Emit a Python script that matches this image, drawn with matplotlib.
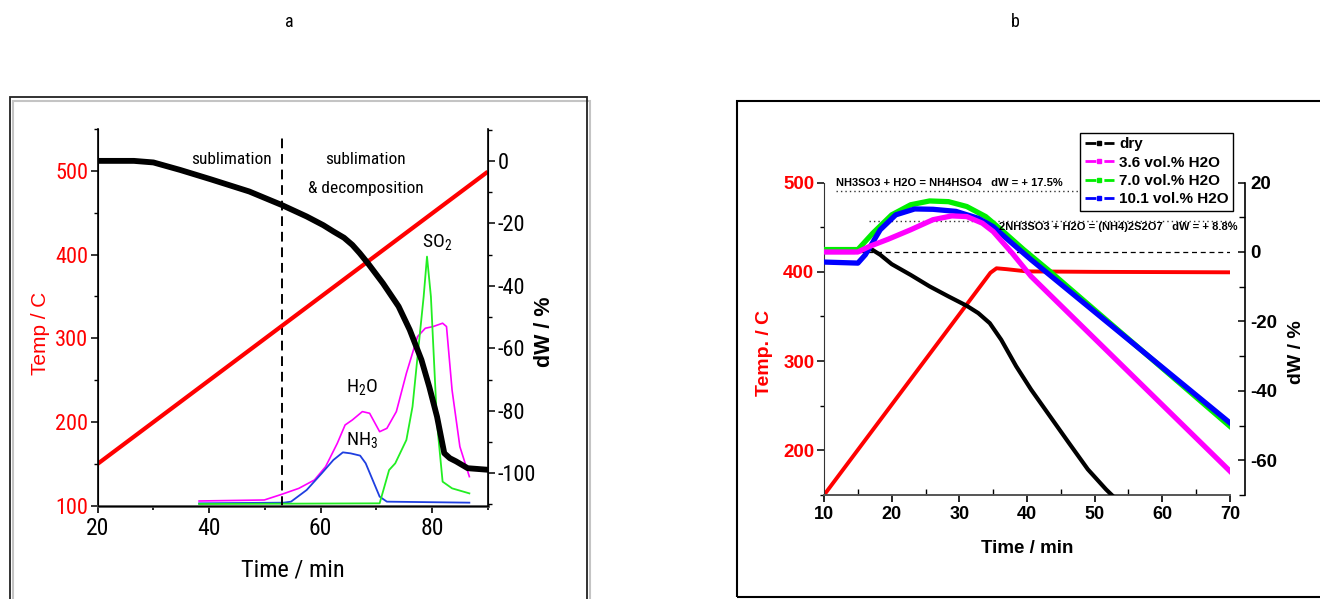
import numpy as np
import matplotlib
matplotlib.use('Agg')
import matplotlib.pyplot as plt
from matplotlib import font_manager
from matplotlib.lines import Line2D
from matplotlib.patches import Rectangle
from matplotlib.ticker import MultipleLocator, FixedLocator

# ---- panel a : TG + MS ----
time_temp_a = [20, 90]
temp_a = [150, 499]

time_dw_a = [20, 26.5, 30, 34.8, 40.3, 47.2, 53, 57.5, 60.5, 62.3, 64.2, 65.7, 67,
             68.5, 71.2, 74, 76, 78.1, 79.5, 80.9, 82.2, 83.2, 84.3, 86.4, 90]
dw_a = [0, 0, -0.5, -2.9, -5.9, -9.8, -14.1, -17.8, -20.6, -22.6, -24.6, -26.9, -29.5,
        -32.8, -39.2, -46.6, -54.1, -63.7, -72.3, -81.9, -93.6, -95.2, -96.2, -98.4, -98.9]

time_h2o = [38.2, 49.9, 53, 56.1, 58.9, 60.9, 63, 64.4, 65.7, 67.5, 68.8, 70.6,
            71.9, 73.6, 75.4, 77.4, 78.8, 80.2, 81.9, 82.6, 83.6, 85, 86.7]
ms_h2o = [105.6, 106.8, 113.5, 120.7, 130.7, 146.6, 174.5, 196.4, 202.4, 212.4,
          210.4, 188.4, 192.4, 212.4, 258.2, 302, 312, 314, 318, 314, 238, 170.5, 134.7]

time_nh3 = [38.2, 53.4, 54.7, 57.5, 60.2, 62.3, 64, 65.4, 67.1, 68.1, 70.6, 71.9, 86.7]
ms_nh3 = [102.8, 103.6, 104.8, 118.7, 138.6, 154.6, 163.7, 162.5, 159.8, 150.6,
          110.8, 104.8, 103.6]

time_so2 = [38.2, 70.6, 72.3, 73.4, 75.4, 76.5, 77.4, 78.5, 79.1, 79.8, 80.9,
            81.9, 83.6, 86.7]
ms_so2 = [102, 102.8, 142.6, 150.6, 178.5, 218.3, 278, 349.8, 397.6, 349.8,
          198.4, 128.7, 120.7, 114.7]

t_boundary = 53

# ---- panel b : TG under humidity ----
time_temp_b = [10, 34.6, 35.5, 37, 40, 50, 70]
temp_b = [150, 399, 404, 403, 400.5, 400, 399.5]

time_dry = [10, 14.5, 16.1, 17, 18.3, 20, 22.8, 25.6, 28.4, 31.1, 32.8, 34.5,
            36.2, 38.4, 40.6, 43.4, 46.2, 49, 51.7, 52.7]
dw_dry = [0, 0, 0.6, 0.8, -0.8, -3.5, -6.6, -9.9, -12.8, -15.5, -17.6, -20.5,
          -25.3, -32.9, -39.6, -47.3, -55, -62.6, -68.4, -70.3]

time_36 = [10, 15, 16.7, 19.5, 22.8, 26.1, 28.9, 31.1, 33.4, 35, 37.8, 40.6, 70]
dw_36 = [0, 0, 1.6, 3.7, 6.4, 9.3, 10.4, 10.2, 8.3, 5.9, -0.3, -7, -63.1]

time_70 = [10, 15, 17.2, 20, 22.8, 25.6, 28.4, 31.1, 33.9, 36.2, 39.5, 43.4, 70]
dw_70 = [0.7, 0.7, 5.4, 10.7, 13.6, 14.7, 14.5, 13.1, 10.2, 6.4, 0.7, -5.6, -50.2]

time_101 = [10, 15, 16.1, 18.3, 20.6, 23.4, 26.1, 29.5, 32.8, 35, 37.8, 40.6, 70]
dw_101 = [-2.9, -3.2, -0.8, 6.4, 10.7, 12.4, 12.3, 11.7, 9.7, 7.3, 2.5, -2.2, -49.2]

labels_b = ['dry', '3.6 vol.% H2O', '7.0 vol.% H2O', '10.1 vol.% H2O']
colors_b = ['black', '#ff00ff', '#00ee00', '#0000ff']

dw_hso4 = 17.5
dw_s2o7 = 8.8
text_hso4 = 'NH3SO3 + H2O = NH4HSO4   dW = + 17.5%'
text_s2o7 = '2NH3SO3 + H2O = (NH4)2S2O7   dW = + 8.8%'


def pick_narrow():
    have = {f.name for f in font_manager.fontManager.ttflist}
    for name in ['Liberation Sans Narrow', 'Arial Narrow', 'DejaVu Sans Condensed',
                 'Roboto Condensed']:
        if name in have:
            return name
    return 'Liberation Sans'


def panel_a(fig, narrow):
    ax = fig.add_axes([0.0740, 0.1558, 0.2955, 0.6288])
    ax2 = ax.twinx()

    ax.plot(time_temp_a, temp_a, color='#ff0000', lw=3.0, solid_capstyle='butt', zorder=3)
    ax.plot(time_h2o, ms_h2o, color='#ff00ff', lw=1.2)
    ax.plot(time_nh3, ms_nh3, color='#1f3fe0', lw=1.3)
    ax.plot(time_so2, ms_so2, color='#22ee22', lw=1.3)
    ax2.plot(time_dw_a, dw_a, color='black', lw=4.2)
    ax.axvline(t_boundary, color='black', lw=1.4, ls=(0, (5, 3)), ymax=0.985)

    ax.set_xlim(20, 90)
    ax.set_ylim(100, 550)
    ax2.set_ylim(-110.4, 10.2)

    ax.xaxis.set_major_locator(MultipleLocator(20))
    ax.xaxis.set_minor_locator(MultipleLocator(10))
    ax.yaxis.set_major_locator(MultipleLocator(100))
    ax.yaxis.set_minor_locator(MultipleLocator(50))
    ax2.yaxis.set_major_locator(MultipleLocator(20))
    ax2.yaxis.set_minor_locator(MultipleLocator(10))
    ax2.set_yticks([0, -20, -40, -60, -80, -100])

    for a in (ax, ax2):
        a.spines['top'].set_visible(False)
    ax.spines['bottom'].set_color('#555555')
    ax.spines['bottom'].set_linewidth(2)
    ax.spines['left'].set_linewidth(1.2)
    ax2.spines['right'].set_linewidth(1.2)

    ax.tick_params(axis='x', which='major', length=5, width=1.2, labelsize=17, pad=3)
    ax.tick_params(axis='x', which='minor', length=3, width=1.2)
    ax.tick_params(axis='y', which='major', length=5, width=1.1, labelsize=16,
                   labelcolor='#ff0000', pad=2)
    ax.tick_params(axis='y', which='minor', length=3, width=1.0)
    ax2.tick_params(axis='y', which='major', length=5, width=1.1, labelsize=16, pad=2)
    ax2.tick_params(axis='y', which='minor', length=3, width=1.0)
    for lab in ax.get_xticklabels() + ax.get_yticklabels() + ax2.get_yticklabels():
        lab.set_family(narrow)

    ax.set_xlabel('Time / min', family=narrow, fontsize=17.5)
    ax.xaxis.set_label_coords(0.5, -0.139)
    ax.set_ylabel('Temp / C', color='#ff0000', fontsize=15, family='Liberation Sans')
    ax.yaxis.set_label_coords(-0.122, 0.458)
    ax2.set_ylabel('dW / %', fontsize=15.5, fontweight='bold', family='Liberation Sans',
                   rotation=90)
    ax2.yaxis.set_label_coords(1.119, 0.462)

    ax.text(44, 513, 'sublimation', family=narrow, fontsize=12.5, ha='center', va='center')
    ax.text(68.1, 513, 'sublimation', family=narrow, fontsize=12.5, ha='center', va='center')
    ax.text(68.1, 479, '& decomposition', family=narrow, fontsize=12.5, ha='center',
            va='center')
    ax.text(80.9, 415, 'SO$_2$', family=narrow, fontsize=14, ha='center', va='center')
    ax.text(67.5, 242, 'H$_2$O', family=narrow, fontsize=14, ha='center', va='center')
    ax.text(67.5, 178, 'NH$_3$', family=narrow, fontsize=14, ha='center', va='center')


def panel_b(fig):
    ax = fig.add_axes([0.6243, 0.1736, 0.3074, 0.6132])
    ax2 = ax.twinx()

    ax.plot(time_temp_b, temp_b, color='#ff0000', lw=2.8)
    ax2.axhline(0, color='black', lw=0.9, ls=(0, (4, 3)))
    ax2.plot([11.8, 70], [dw_hso4, dw_hso4], color='#333333', lw=1.0, ls=(0, (1, 2.2)))
    ax2.plot([16.6, 70.4], [dw_s2o7, dw_s2o7], color='#333333', lw=1.0, ls=(0, (1, 2.2)),
             clip_on=False)
    ax2.plot(time_dry, dw_dry, color=colors_b[0], lw=3.0)
    ax2.plot(time_70, dw_70, color=colors_b[2], lw=3.8)
    ax2.plot(time_101, dw_101, color=colors_b[3], lw=3.8)
    ax2.plot(time_36, dw_36, color=colors_b[1], lw=3.8)

    ax.set_xlim(10, 70)
    ax.set_ylim(150, 561.5)
    ax2.set_ylim(-70, 35.8)

    ax.xaxis.set_major_locator(MultipleLocator(10))
    ax.xaxis.set_minor_locator(MultipleLocator(5))
    ax.yaxis.set_major_locator(FixedLocator([200, 300, 400, 500]))
    ax.yaxis.set_minor_locator(FixedLocator([150, 250, 350, 450]))
    ax2.yaxis.set_major_locator(FixedLocator([-60, -40, -20, 0, 20]))
    ax2.yaxis.set_minor_locator(FixedLocator([-70, -50, -30, -10, 10]))

    ax.spines['top'].set_visible(False)
    ax.spines['right'].set_visible(False)
    ax.spines['left'].set_bounds(150, 500)
    ax.spines['left'].set_color('#333333')
    ax.spines['bottom'].set_color('#555555')
    ax.spines['bottom'].set_linewidth(1.4)
    for s in ('top', 'left', 'bottom'):
        ax2.spines[s].set_visible(False)
    ax2.spines['right'].set_bounds(-70, 20)
    ax2.spines['right'].set_position(('outward', 11))
    ax2.spines['right'].set_linewidth(1.2)

    ax.tick_params(axis='x', which='major', direction='out', length=5, width=1.2,
                   labelsize=13, pad=3)
    ax.tick_params(axis='x', which='minor', direction='in', length=4, width=1.0)
    ax.tick_params(axis='y', which='major', direction='out', length=5, width=1.1,
                   labelsize=13.5, labelcolor='#ff0000', pad=2)
    ax.tick_params(axis='y', which='minor', direction='out', length=3, width=1.0)
    ax2.tick_params(axis='y', which='major', direction='in', length=5, width=1.1,
                    labelsize=13.5, pad=4)
    ax2.tick_params(axis='y', which='minor', direction='in', length=4, width=1.0)
    for lab in ax.get_xticklabels() + ax.get_yticklabels() + ax2.get_yticklabels():
        lab.set_fontweight('bold')

    ax.set_xlabel('Time / min', fontsize=13.5, fontweight='bold')
    ax.xaxis.set_label_coords(0.5, -0.1225)
    ax.set_ylabel('Temp. / C', fontsize=14, fontweight='bold', color='#ff0000')
    ax.yaxis.set_label_coords(-0.126, 0.387)
    ax2.set_ylabel('dW / %', fontsize=14, fontweight='bold', rotation=90)
    ax2.yaxis.set_label_coords(1.143, 0.390)

    ax2.text(11.8, 20, text_hso4, fontsize=8.0, fontweight='bold', ha='left', va='center')
    ax2.text(35.9, 7.1, text_s2o7, fontsize=8.0, fontweight='bold', ha='left', va='center')

    handles = [Line2D([], [], color=c, lw=2, ls=(0, (3.9, 2.9)), marker='s', ms=3.5)
               for c in colors_b]
    leg = ax2.legend(handles, labels_b, loc='upper right', bbox_to_anchor=(1.008, 0.986),
                     borderaxespad=0, frameon=True, fancybox=False, framealpha=1,
                     edgecolor='black', handlelength=1.9, handletextpad=0.35,
                     labelspacing=0.28, borderpad=0.3,
                     prop={'weight': 'bold', 'size': 11})
    leg.get_frame().set_linewidth(1.0)
    leg.set_zorder(5)


def main():
    plt.rcParams['font.family'] = ['Liberation Sans', 'DejaVu Sans']
    plt.rcParams['mathtext.default'] = 'regular'
    plt.rcParams['axes.unicode_minus'] = False
    narrow = pick_narrow()

    fig = plt.figure(figsize=(13.2, 5.99), dpi=100)
    W, H = 1320.0, 599.0

    # frames round the two panels
    fig.patches.append(Rectangle((12.7 / W, -10 / H), 577 / W, (599 - 101.5 + 10) / H,
                                 transform=fig.transFigure, fill=False,
                                 edgecolor='#c4c4c4', lw=1.5))
    fig.patches.append(Rectangle((10 / W, -10 / H), 577 / W, (599 - 97 + 10) / H,
                                 transform=fig.transFigure, fill=False,
                                 edgecolor='#222222', lw=1.3))
    fig.patches.append(Rectangle((737 / W, 2 / H), 600 / W, (597 - 101) / H,
                                 transform=fig.transFigure, fill=False,
                                 edgecolor='black', lw=1.5))

    fig.text(289 / W, 1 - 22 / H, 'a', ha='center', va='center', fontsize=13, family=narrow)
    fig.text(1015 / W, 1 - 22 / H, 'b', ha='center', va='center', fontsize=13, family=narrow)

    panel_a(fig, narrow)
    panel_b(fig)

    fig.savefig('out.png', dpi=100)


if __name__ == '__main__':
    main()
